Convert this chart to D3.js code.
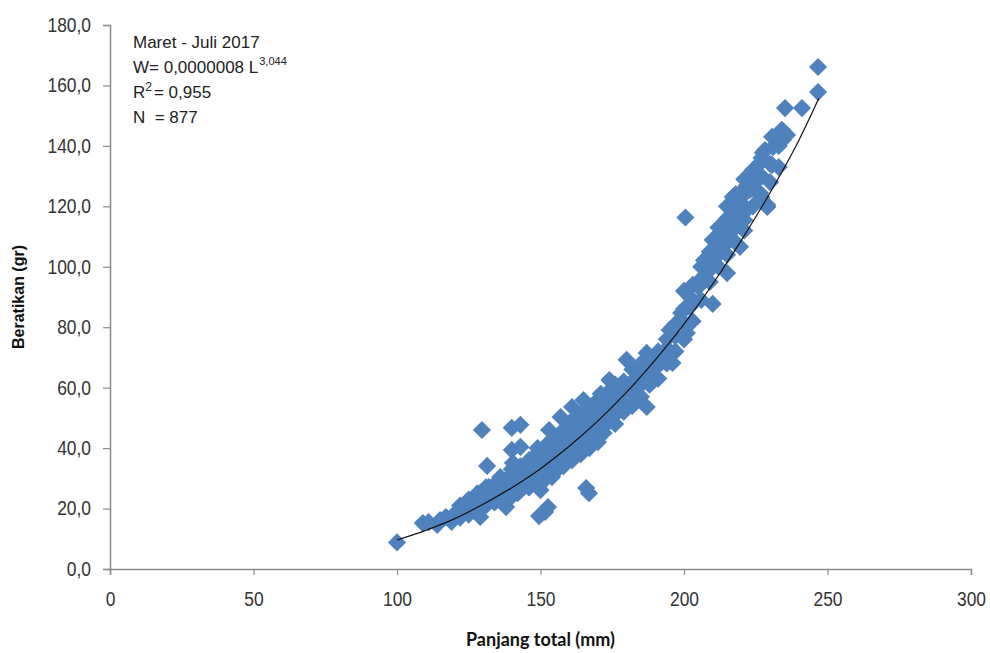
<!DOCTYPE html>
<html>
<head>
<meta charset="utf-8">
<script src="https://cdn.jsdelivr.net/npm/d3@7"></script>
<style>
  body { margin: 0; background: #fff; }
  svg { display: block; }
  .tick text { font-family: "Liberation Sans Narrow", "Liberation Sans", Arial, sans-serif; fill: #333; }
</style>
</head>
<body>
<div id="chart"></div>
<script>
// tick labels
const xTicks = [0, 50, 100, 150, 200, 250, 300];
const yTicks = [0, 20, 40, 60, 80, 100, 120, 140, 160, 180];

// annotation lines
const noteTitle = "Maret - Juli 2017";
const noteEq = ["W= 0,0000008 L", "3,044"];
const noteR2 = ["R", "2", "= 0,955"];
const noteN = "N  = 877";

// trend line [panjang, berat]
const trendLine = [
    [100, 9.6], [110, 12.8], [120, 16.6], [130, 21.4], [140, 26.9], [150, 33.2],
    [160, 40.6], [170, 49], [180, 58.5], [190, 69.2], [200, 81], [210, 94.3],
    [220, 108.8], [230, 124.5], [240, 141.8], [247, 155.8]
];

// observed fish [panjang total (mm), berat (gr)]
const fish = [
    [100, 8.8], [109, 15.2], [111, 15.5], [114, 14.6], [115, 16.2], [117, 17.2],
    [119, 15.6], [120, 18.2], [121, 18.5], [122, 17], [122, 19], [122, 21],
    [124, 20.5], [125, 18], [125, 21], [125, 23], [128, 19.5], [129, 17.2],
    [128, 20], [128, 22], [128, 25], [129, 25.1], [129.6, 46], [131, 22.8],
    [131, 21], [131, 24], [131, 27], [131.4, 34.1], [132, 27.1], [134, 22],
    [134, 25], [134, 28], [135, 23.8], [136, 30.4], [137, 23], [137, 26],
    [137, 29], [138, 20.5], [139, 30.4], [140, 46.7], [140, 39.4], [140, 24],
    [140, 27], [140, 29], [140, 31], [140, 33], [140.4, 35.1], [142, 25.1],
    [143, 47.7], [143, 40.4], [143, 26], [143, 28], [143, 31], [143, 34],
    [144, 27.1], [145, 32.8], [146, 27], [146, 30], [146, 33], [146, 36],
    [147, 30.4], [149, 38.4], [149, 29], [149, 31], [149, 34], [149, 40],
    [149.5, 17.5], [150, 26.1], [151.6, 18.9], [152.6, 20.5], [152, 30],
    [152, 33], [152, 35], [152, 38], [152, 41], [152, 36.1], [153, 41.7],
    [153, 46], [154, 30.4], [155, 32], [155, 35], [155, 37], [155, 40],
    [155, 43], [157, 45], [157, 50.3], [157, 41.7], [158, 36.1], [158, 34],
    [158, 37], [158, 40], [158, 43], [158, 46], [159, 37.1], [160, 48.3],
    [161, 39.4], [161, 36], [161, 40], [161, 42], [161, 46], [161, 49],
    [161, 53.6], [161, 45], [164, 38], [164, 41], [164, 44], [164, 47],
    [164, 51], [164, 39.4], [165, 55.9], [165.9, 26.8], [166.9, 25.1],
    [167, 40], [167, 43], [167, 46], [167, 49], [167, 53], [168, 41.7],
    [168, 49.3], [170, 42], [170, 46], [170, 49], [170, 52], [170, 56],
    [172, 45], [173, 52.6], [173, 48], [173, 51], [173, 54], [173, 58],
    [174, 62.5], [176, 48], [176, 51], [176, 55], [176, 58], [178, 55.9],
    [179, 60.2], [179, 52], [179, 55], [179, 59], [179, 62], [180, 69.2],
    [182, 58.2], [182, 54], [182, 62], [182, 66], [185, 63.5], [185, 57],
    [185, 61], [185, 65], [185, 68], [187, 71.5], [187, 53.6], [188, 61],
    [188, 66], [188, 70], [189, 65.9], [191, 63], [191, 68], [191, 72],
    [192, 68.2], [194, 71.5], [194, 68], [194, 73], [194, 76], [195, 79.1],
    [196, 68.2], [197, 72], [197, 77], [197, 81], [199, 82.4], [199, 84.7],
    [200, 76], [200, 81], [200, 86], [200, 92], [200.5, 116.3], [201, 78.1],
    [202, 86.7], [202, 90], [203, 82], [203, 88], [203, 94], [205, 93.3],
    [206, 95.6], [206, 89], [206, 96], [206, 100], [207, 102.2], [209, 95],
    [209, 101], [209, 105], [210, 87.7], [210, 108.9], [212, 100], [212, 104],
    [212, 109], [212, 113], [212.5, 105.6], [212.5, 111.2], [215, 97.9],
    [215, 113.2], [215, 104], [215, 110], [215, 116], [215, 120], [216, 116.5],
    [217, 116.5], [217, 123.1], [218, 108], [218, 113], [218, 119], [218, 124],
    [218.5, 122.1], [219.5, 106.6], [219.5, 124.4], [221, 115.5], [221, 112],
    [221, 118], [221, 124], [221, 129], [223, 125.4], [223, 128.7], [224, 120],
    [224, 126], [224, 132], [225.4, 131], [226.5, 124.4], [226.5, 134.3],
    [227, 123], [227, 130], [227, 136], [227.5, 137.7], [228.2, 138.6],
    [229, 119.8], [229, 120.4], [230, 128], [230, 134], [230.7, 133.7],
    [230.7, 143], [231, 139.6], [233, 133], [233, 140], [233, 144],
    [234.1, 145.3], [234.5, 142], [235.2, 152.5], [235.9, 143.6],
    [241.1, 152.5], [246.7, 157.8], [246.7, 166.1],
    [163, 50], [166, 52], [169, 54], [171, 58], [176, 61], [183, 63], [186, 66],
    [208, 98], [211, 106], [214, 107], [220, 121], [222, 127], [225, 128]
];

const margin = { top: 25, right: 19, bottom: 84, left: 110 };
const width = 990 - margin.left - margin.right;
const height = 653 - margin.top - margin.bottom;

const svg = d3.select("#chart").append("svg")
    .attr("width", 990)
    .attr("height", 653)
    .append("g")
    .attr("transform", "translate(" + margin.left + "," + margin.top + ")");

// Scales and axes
const x = d3.scaleLinear().domain([0, 300]).range([0, width]);
const y = d3.scaleLinear().domain([0, 180]).range([height, 0]);

const fmtY = d => d3.format(".1f")(d).replace(".", ",");

const xAxis = d3.axisBottom(x).tickValues(xTicks).tickSize(6).tickPadding(17);
const yAxis = d3.axisLeft(y).tickValues(yTicks).tickSize(7).tickPadding(12).tickFormat(fmtY);

const axisColor = "#8a8a8a";
const squeeze = 0.87;   // tick labels in the original are a narrow face

const gx = svg.append("g")
    .attr("class", "x-axis")
    .attr("transform", "translate(0," + height + ")")
    .call(xAxis);

const gy = svg.append("g")
    .attr("class", "y-axis")
    .call(yAxis);

[gx, gy].forEach(g => {
    g.select(".domain").attr("stroke", axisColor).attr("stroke-width", 1.5);
    g.selectAll(".tick line").attr("stroke", axisColor).attr("stroke-width", 1.2);
    g.selectAll(".tick text").attr("font-size", 20);
});
gx.selectAll(".tick text").attr("transform", "scale(" + squeeze + ",1)");
gy.selectAll(".tick text")
    .attr("x", -19 / squeeze)
    .attr("transform", "scale(" + squeeze + ",1)");

// points as rotated squares
const diamond = d3.symbol().type(d3.symbolSquare).size(165);

svg.selectAll(".pt")
    .data(fish)
    .enter()
    .append("path")
    .attr("class", "pt")
    .attr("d", diamond)
    .attr("transform", d => "translate(" + x(d[0]) + "," + y(d[1]) + ") rotate(45)")
    .attr("fill", "#4f81bd");

// trend line
const line = d3.line()
    .x(d => x(d[0]))
    .y(d => y(d[1]))
    .curve(d3.curveMonotoneX);

svg.append("path")
    .datum(trendLine)
    .attr("fill", "none")
    .attr("stroke", "#111")
    .attr("stroke-width", 1.2)
    .attr("d", line);

// annotation
const noteFont = '"Liberation Sans Narrow", "Liberation Sans", Arial, sans-serif';
const note = svg.append("g")
    .attr("font-family", noteFont)
    .attr("font-size", 17)
    .attr("fill", "#222");

note.append("text").attr("x", 23).attr("y", 23).text(noteTitle);

let t = note.append("text").attr("x", 23).attr("y", 48);
t.append("tspan").text(noteEq[0]);
t.append("tspan").attr("font-size", 11).attr("dy", -8).attr("dx", 1).text(noteEq[1]);

t = note.append("text").attr("x", 23).attr("y", 73);
t.append("tspan").text(noteR2[0]);
t.append("tspan").attr("font-size", 12).attr("dy", -7).text(noteR2[1]);
t.append("tspan").attr("dy", 7).attr("dx", 2).text(noteR2[2]);

note.append("text").attr("x", 23).attr("y", 98).attr("xml:space", "preserve").text(noteN);

// axis labels
svg.append("text")
    .attr("transform", "translate(-86," + (height / 2) + ") rotate(-90)")
    .attr("text-anchor", "middle")
    .attr("font-family", noteFont)
    .attr("font-weight", "bold")
    .attr("font-size", 16)
    .attr("fill", "#111")
    .text("Beratikan (gr)");

svg.append("text")
    .attr("x", width / 2)
    .attr("y", height + 77)
    .attr("text-anchor", "middle")
    .attr("font-family", "Lato, 'Open Sans', sans-serif")
    .attr("font-weight", "bold")
    .attr("font-size", 18)
    .attr("fill", "#111")
    .text("Panjang total (mm)");
</script>
</body>
</html>
